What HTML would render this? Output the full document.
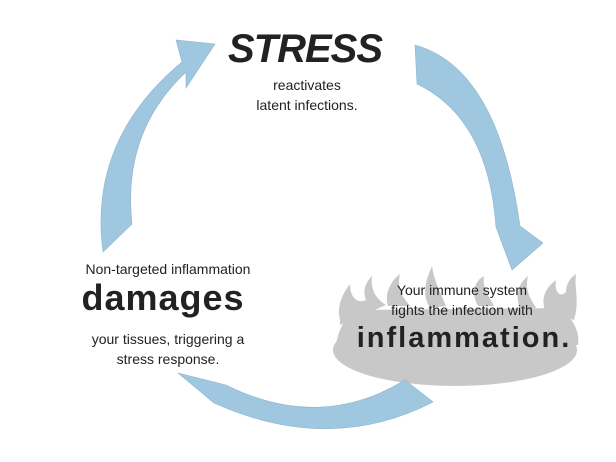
<!DOCTYPE html>
<html><head><style>
html,body{margin:0;padding:0;background:#fff;}
svg{display:block;}
text{font-family:"Liberation Sans",sans-serif;fill:#222;}
</style></head><body>
<svg width="616" height="462" viewBox="0 0 616 462">
<g fill="#c8c8c8">
<ellipse cx="455" cy="350" rx="122" ry="36"/>
<path d="M336,345 C338,330 345,318 355,310 L560,308 C572,318 580,330 578,345 Z"/>
<path d="M340,320 C336,305 344,292 350,284 C350,298 358,304 366,300 C362,290 366,282 372,276 C370,292 378,300 386,305 L340,325 Z"/>
<path d="M388,306 C384,292 392,280 400,274 C396,290 404,298 410,306 Z"/>
<path d="M430,308 C420,292 428,276 432,266 C434,280 440,292 446,306 Z"/>
<path d="M478,306 C470,292 476,280 484,276 C482,288 490,298 494,306 Z"/>
<path d="M520,308 C514,294 520,282 528,276 C524,292 532,300 536,308 Z"/>
<path d="M545,310 C540,296 548,286 556,280 C554,292 560,298 566,292 C566,284 570,278 576,274 C574,290 580,300 574,320 Z"/>
</g>
<g fill="#9fc8e0" stroke="#8fb4cc" stroke-width="0.6">
<path d="M415,45 Q498,68 520,226 L543,243 L512,270 L496,227 Q488,118 417,84 Z"/>
<path d="M178,373 L226,385 Q320,432 405,380 L433,402 Q330,455 214,403 Z"/>
<path d="M103,252 Q88,140 182,62 L176,40 L215,44 L186,88 L186,72 Q122,132 132,224 Z"/>
</g>
<text x="305" y="62" text-anchor="middle" font-size="40" font-weight="bold" font-style="italic" letter-spacing="-1">STRESS</text>
<text x="307" y="90" text-anchor="middle" font-size="14">reactivates</text>
<text x="307" y="110" text-anchor="middle" font-size="14">latent infections.</text>
<text x="168" y="274" text-anchor="middle" font-size="14">Non-targeted inflammation</text>
<text x="163" y="310" text-anchor="middle" font-size="36" font-weight="bold" letter-spacing="1">damages</text>
<text x="168" y="344" text-anchor="middle" font-size="14">your tissues, triggering a</text>
<text x="168" y="364" text-anchor="middle" font-size="14">stress response.</text>
<text x="462" y="295" text-anchor="middle" font-size="14">Your immune system</text>
<text x="462" y="315" text-anchor="middle" font-size="14">fights the infection with</text>
<text x="464" y="347" text-anchor="middle" font-size="29" font-weight="bold" letter-spacing="2">inflammation.</text>
</svg>
</body></html>
